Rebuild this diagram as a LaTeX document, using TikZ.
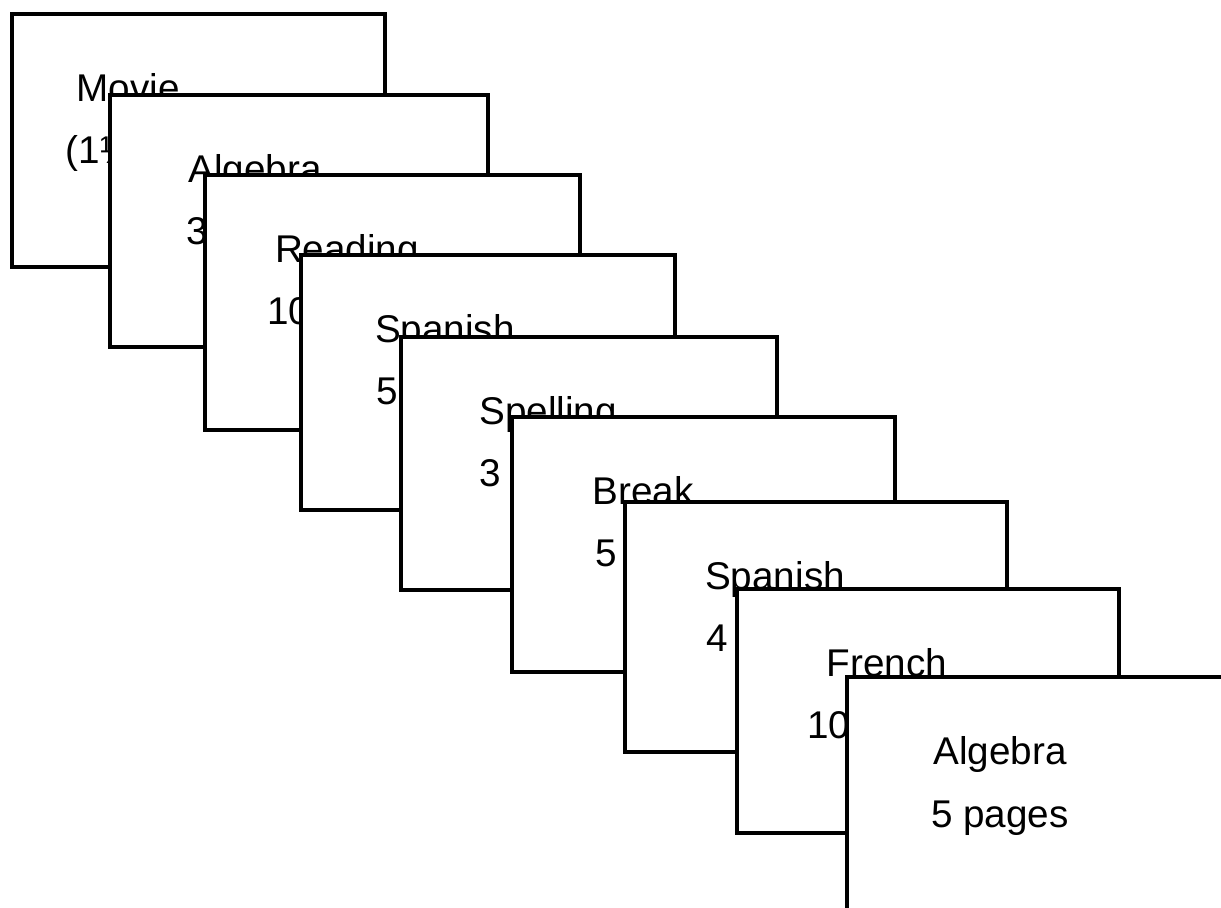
\documentclass[tikz,border=0pt]{standalone}
\usepackage{fontspec}
\setmainfont{Liberation Sans}
\usetikzlibrary{positioning}

\tikzset{
  card/.style={draw, line width=2.5pt, fill=white, anchor=north west, inner sep=0pt},
  lbl/.style={font=\fontsize{22}{26}\selectfont, anchor=base, inner sep=0pt}
}

\begin{document}
\begin{tikzpicture}[x=0.02cm, y=-0.02cm]
\useasboundingbox (0,0) rectangle (1221,908);
\clip (0,0) rectangle (1221,908);

% --- the stack of cards, each one laid over the one before ---
\foreach \n/\x/\y/\w/\h/\dx/\headtxt/\subtxt in {
  1/10/12/373/253/118/Movie/{(1½ hr)},
  2/108/93/378/252/147/Algebra/{3 pages},
  3/203/173/375/255/144/Reading/{10 pages},
  4/299/253/374/255/146/Spanish/{5 pages},
  5/399/335/376/253/149/Spelling/{3 pages},
  6/510/415/383/255/133/Break/{5 min},
  7/623/500/382/250/152/Spanish/{4 pages},
  8/735/587/382/244/152/French/{10 pages},
  9/845/675/390/260/155/Algebra/{5 pages}}{
  \node[card, minimum width=\w*0.02cm, minimum height=\h*0.02cm] (card\n) at (\x,\y) {};
  \node[lbl] (head\n) at ([shift={(\dx,90)}]card\n.north west) {\headtxt};
  \node[lbl] (sub\n) at ([shift={(\dx,152)}]card\n.north west) {\subtxt};
}
\end{tikzpicture}
\end{document}
